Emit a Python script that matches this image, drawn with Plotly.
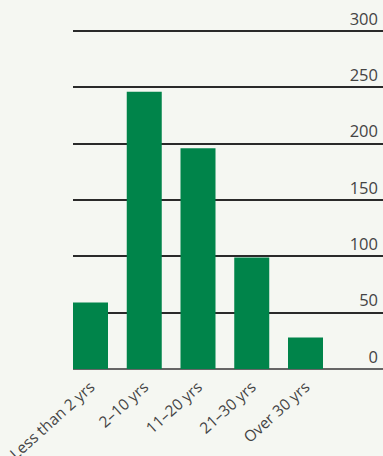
import plotly.graph_objects as go

# Years of service bands and respondent counts
categories = ["Less than 2 yrs", "2–10 yrs", "11–20 yrs", "21–30 yrs", "Over 30 yrs"]
counts = [59, 246, 196, 99, 28]
y_ticks = [0, 50, 100, 150, 200, 250, 300]

W, H = 383, 456
plot_left, plot_right = 73, 383
zero_px, top_px = 369.5, 31.0          # pixel rows of the 0 and 300 gridlines
bar_pitch, bar_width = 53.75, 35.0

units_per_px = 300 / (zero_px - top_px)
y_top = zero_px * units_per_px
gap = 1 - bar_width / bar_pitch
x_start = -0.5 + gap / 2
x_end = x_start + (plot_right - plot_left) / bar_pitch

fig = go.Figure(
    go.Bar(
        x=list(range(len(categories))),
        y=counts,
        marker=dict(color="#00844a", line=dict(width=0)),
        hoverinfo="skip",
    )
)

fig.update_layout(
    width=W,
    height=H,
    margin=dict(l=plot_left, r=W - plot_right, t=0, b=H - zero_px),
    paper_bgcolor="#f5f7f2",
    plot_bgcolor="rgba(0,0,0,0)",
    bargap=gap,
    showlegend=False,
    font=dict(family="Open Sans, Lato, sans-serif", color="#4a4a4a"),
)

fig.update_xaxes(
    range=[x_start, x_end],
    tickmode="array",
    tickvals=list(range(len(categories))),
    ticktext=categories,
    tickangle=-42,
    tickfont=dict(size=15.5, color="#444444"),
    ticklabelstandoff=5,
    automargin=False,
    showgrid=False,
    zeroline=False,
    showline=False,
    ticks="",
)

fig.update_yaxes(
    range=[0, y_top],
    tickmode="array",
    tickvals=y_ticks,
    side="right",
    ticklabelposition="inside",
    ticklabelshift=-12,
    ticklabelstandoff=2,
    tickfont=dict(size=16.5, color="#444444"),
    automargin=False,
    showgrid=True,
    gridcolor="#2a2a2a",
    gridwidth=1.5,
    zeroline=True,
    zerolinecolor="#666666",
    zerolinewidth=1.5,
    showline=False,
    ticks="",
)

fig.write_html("out.html")
